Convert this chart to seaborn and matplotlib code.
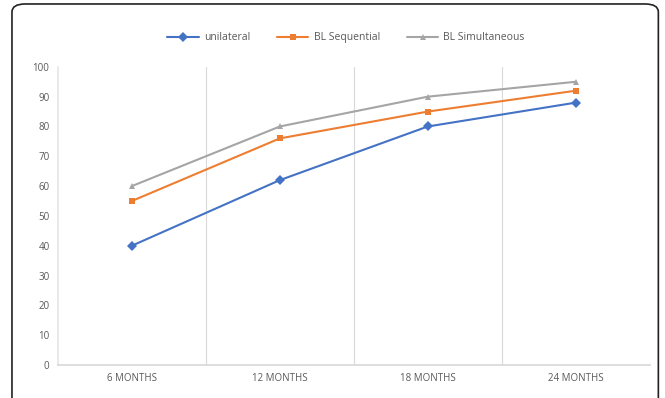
import matplotlib
matplotlib.use("Agg")
import matplotlib.pyplot as plt
from matplotlib.patches import FancyBboxPatch
from matplotlib.ticker import FixedLocator
import pandas as pd
import seaborn as sns

months = ["6 MONTHS", "12 MONTHS", "18 MONTHS", "24 MONTHS"]
unilateral = [40, 62, 80, 88]
bl_sequential = [55, 76, 85, 92]
bl_simultaneous = [60, 80, 90, 95]

series = ["unilateral", "BL Sequential", "BL Simultaneous"]
colors = ["#4472C4", "#ED7D31", "#A5A5A5"]
markers = ["D", "s", "^"]

sns.set_theme(style="white")
plt.rcParams["font.family"] = ["Open Sans", "DejaVu Sans"]

df = pd.DataFrame({
    "month": months * 3,
    "value": unilateral + bl_sequential + bl_simultaneous,
    "series": [s for s in series for _ in months],
})
df["x"] = df["month"].map({m: i for i, m in enumerate(months)})

fig = plt.figure(figsize=(6.65, 3.98), dpi=100)
ax = fig.add_axes([0.087, 0.083, 0.89, 0.749])

sns.lineplot(data=df, x="x", y="value", hue="series", style="series",
             hue_order=series, style_order=series, palette=colors,
             markers=markers, dashes=False, markersize=5, linewidth=1.5,
             markeredgewidth=0, ax=ax)

ax.set_xlim(-0.5, 3.5)
ax.set_ylim(0, 100)
ax.set_yticks(range(0, 101, 10))
ax.set_xticks(range(len(months)))
ax.set_xticklabels(months)
ax.xaxis.set_minor_locator(FixedLocator([0.5, 1.5, 2.5]))
ax.grid(which="minor", axis="x", color="#D9D9D9", linewidth=0.8)
ax.tick_params(axis="both", which="both", length=0, labelsize=7, colors="#595959", pad=6)
ax.set_xlabel("")
ax.set_ylabel("")
for side in ["top", "right"]:
    ax.spines[side].set_visible(False)
ax.spines["left"].set_color("#E6E6E6")
ax.spines["bottom"].set_color("#D9D9D9")

handles, labels = ax.get_legend_handles_labels()
ax.legend(handles, labels, loc="center", bbox_to_anchor=(0.487, 1.097), ncol=3,
          frameon=False, fontsize=7.5, labelcolor="#595959", handlelength=3,
          columnspacing=2.6, handletextpad=0.5)

border = FancyBboxPatch((0.018, -0.05), 0.972, 1.04, boxstyle="round,pad=0,rounding_size=0.02",
                        transform=fig.transFigure, fill=False, edgecolor="#222222",
                        linewidth=1.2, clip_on=False)
fig.patches.append(border)

fig.savefig("out.png", dpi=100)
